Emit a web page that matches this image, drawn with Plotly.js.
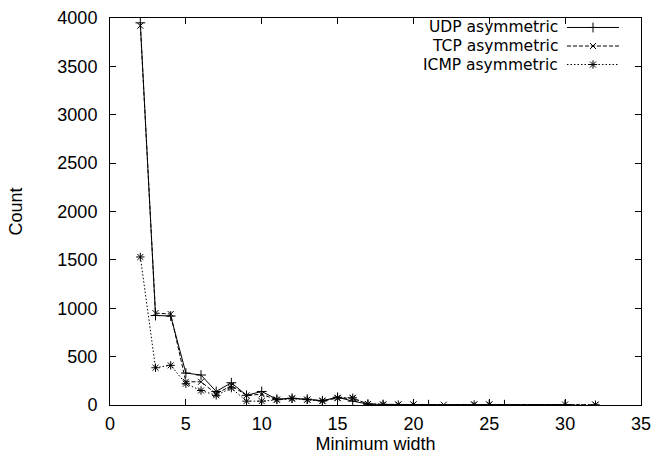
<!DOCTYPE html>
<html>
<head>
<meta charset="utf-8">
<script src="https://cdn.plot.ly/plotly-3.0.1.min.js"></script>
<style>html,body{margin:0;padding:0;background:#fff;}#chart{width:656px;height:461px;}</style>
</head>
<body>
<div id="chart"></div>
<script>
var seriesNames = ["UDP asymmetric", "TCP asymmetric", "ICMP asymmetric"];

var udpX = [2,3,4,5,6,7,8,9,10,11,12,13,14,15,16,17,18,20,21,25,26,30];
var udpY = [3950,925,920,330,310,140,230,100,140,60,70,60,45,80,40,10,5,5,3,5,3,5];

var tcpX = [2,3,4,5,6,7,8,9,10,11,12,13,14,15,16,17,18,19,20,22,24,25,32];
var tcpY = [3920,950,940,240,240,115,200,100,110,55,70,55,45,70,70,10,5,5,5,3,5,5,3];

var icmpX = [2,3,4,5,6,7,8,9,10,11,12,13,14,15,16,17,18,19,20,24,25,30,32];
var icmpY = [1530,385,410,220,150,100,175,40,40,55,65,55,40,75,75,8,5,5,5,5,5,5,3];

var xTicks = [0,5,10,15,20,25,30,35];
var yTicks = [0,500,1000,1500,2000,2500,3000,3500,4000];

var FONT = "Liberation Sans, Arial, sans-serif";
var LEG_FONT = "DejaVu Sans, sans-serif";
var FS = 18;
var LEG_FS = 15.5;
var styles = [
  {dash: "solid", symbol: "cross-thin-open", size: 7},
  {dash: "4px,2px", symbol: "x-thin-open", size: 6},
  {dash: "1.5px,2px", symbol: "asterisk-open", size: 7}
];
var xs = [udpX, tcpX, icmpX];
var ys = [udpY, tcpY, icmpY];

var traces = [];
for (var i = 0; i < 3; i++) {
  traces.push({
    x: xs[i], y: ys[i], type: "scatter", mode: "lines+markers",
    name: seriesNames[i], showlegend: false,
    line: {color: "#000", width: 1, dash: styles[i].dash},
    marker: {color: "#000", symbol: styles[i].symbol, size: styles[i].size, line: {color: "#000", width: 1}}
  });
}

// custom legend (text left, sample right)
var legTextX = 0.8437, legLine0 = 0.8606, legLine1 = 0.9586, legMark = 0.9096;
var legRows = [0.9755, 0.9276, 0.8798];
var annotations = [], shapes = [];
for (var j = 0; j < 3; j++) {
  annotations.push({
    xref: "paper", yref: "paper", x: legTextX, y: legRows[j],
    xanchor: "right", yanchor: "middle", showarrow: false,
    borderpad: 0, borderwidth: 0,
    text: seriesNames[j], font: {family: LEG_FONT, size: LEG_FS, color: "#000"}
  });
  shapes.push({
    type: "line", xref: "paper", yref: "paper",
    x0: legLine0, x1: legLine1, y0: legRows[j], y1: legRows[j],
    line: {color: "#000", width: 1, dash: styles[j].dash}
  });
  traces.push({
    x: [legMark], y: [legRows[j]], xaxis: "x2", yaxis: "y2",
    type: "scatter", mode: "markers", showlegend: false, hoverinfo: "skip",
    marker: {color: "#000", symbol: styles[j].symbol, size: styles[j].size, line: {color: "#000", width: 1}}
  });
}

var layout = {
  width: 656, height: 461,
  margin: {l: 110, r: 15, t: 18, b: 56},
  paper_bgcolor: "#fff", plot_bgcolor: "#fff",
  font: {family: FONT, size: FS, color: "#000"},
  showlegend: false,
  xaxis: {
    range: [0, 35], tickvals: xTicks, ticktext: xTicks.map(String),
    ticks: "inside", ticklen: 6, tickwidth: 1, tickcolor: "#000",
    showline: true, linecolor: "#000", linewidth: 1, mirror: "ticks",
    showgrid: false, zeroline: false,
    tickfont: {family: FONT, size: FS}, ticklabelstandoff: 2,
    title: {text: "Minimum width", font: {family: FONT, size: FS}, standoff: 2}
  },
  yaxis: {
    range: [0, 4000], tickvals: yTicks, ticktext: yTicks.map(String),
    ticks: "inside", ticklen: 6, tickwidth: 1, tickcolor: "#000",
    showline: true, linecolor: "#000", linewidth: 1, mirror: "ticks",
    showgrid: false, zeroline: false,
    tickfont: {family: FONT, size: FS}, ticklabelstandoff: 8,
    title: {text: "Count", font: {family: FONT, size: FS}, standoff: 30}
  },
  xaxis2: {domain: [0, 1], range: [0, 1], overlaying: "x", visible: false, fixedrange: true},
  yaxis2: {domain: [0, 1], range: [0, 1], overlaying: "y", visible: false, fixedrange: true, anchor: "x2"},
  annotations: annotations,
  shapes: shapes
};

Plotly.newPlot("chart", traces, layout, {displayModeBar: false, staticPlot: true});
</script>
</body>
</html>
